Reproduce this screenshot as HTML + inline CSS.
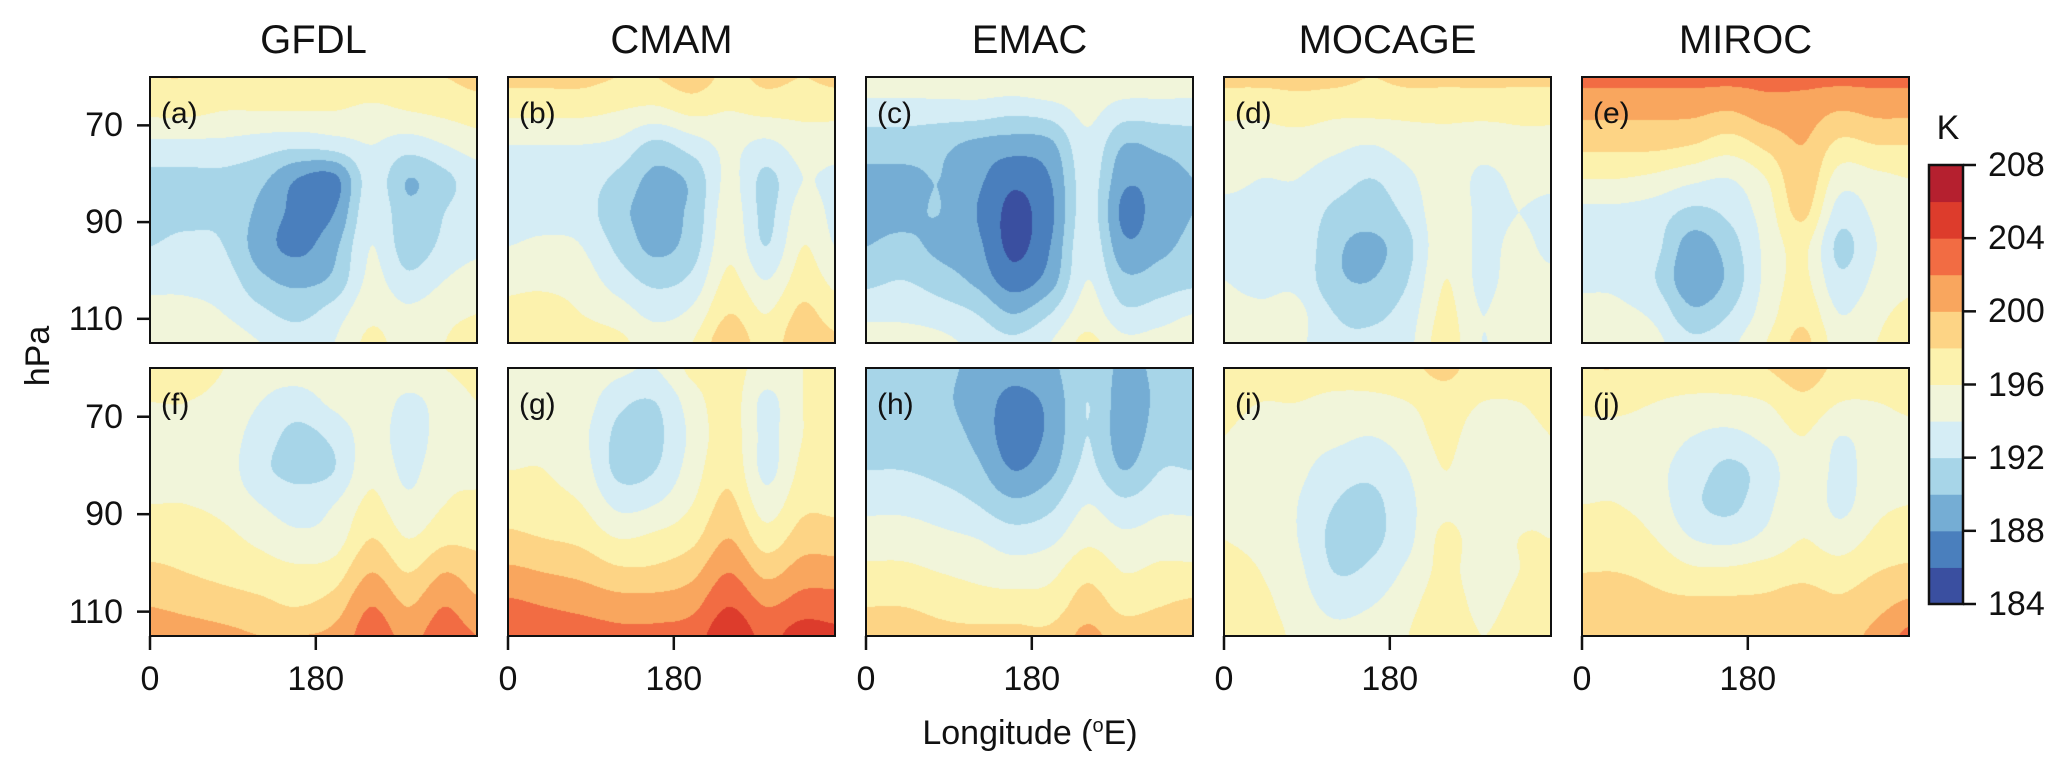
<!DOCTYPE html>
<html><head><meta charset="utf-8">
<style>
body{margin:0;background:#fff;}
#root{position:relative;width:2067px;height:775px;overflow:hidden;background:#fff;font-family:"Liberation Sans",sans-serif;color:#111;}
.t{position:absolute;white-space:nowrap;line-height:1;}
canvas{position:absolute;}
.frame{position:absolute;border:2.5px solid #111;box-sizing:border-box;}
</style></head>
<body>
<div id="root">
<svg id="ov" width="2067" height="775" style="position:absolute;left:0;top:0"></svg>
</div>
<script>
const models = ["GFDL","CMAM","EMAC","MOCAGE","MIROC"];
const letters = [["(a)","(b)","(c)","(d)","(e)"],["(f)","(g)","(h)","(i)","(j)"]];
const lons = [0,40,80,120,160,200,240,280,320,355];
const pres = [60,67,74,81,88,95,102,109,115];
const levels = [184,186,188,190,192,194,196,198,200,202,204,206,208];
const colors = ["#3a4fa0","#4a7fbd","#75add4","#a7d5e8","#d5edf5","#f1f5da","#fcf2ad","#fdd485","#f9a65e","#f26c43","#dd3c2c","#b5202f"];
const yTicks = [70,90,110];
const xTicks = [0,180];
const cbTicks = [184,188,192,196,200,204,208];

const gfdlTop = [
[198,198,197.5,198,198,198,197.5,198,198,198.5],
[196.5,196.5,196,196,196,196,195.5,196,196.5,197],
[193.5,193.5,193.5,193,192.5,193,194,193,194,195],
[191.5,191.5,191.5,190.5,188,187.5,193,190,191.5,193],
[191.5,191.5,191.5,189.5,187.5,188,193.5,190.5,192,193],
[192,192.5,192,189,187.5,189.5,194,191,192.5,193.5],
[193.5,193.5,193,190.5,189.5,190.5,194.5,192.5,194,195],
[194.5,194.5,194,192.5,191.5,193,195.5,194.5,195.5,196],
[195,195,195,194,193,194,196.5,195,196,196.5]];
const cmamTop = [
[198.5,198.5,198.5,198,198,199,197.5,198.5,198,198.5],
[196.5,196.5,196.5,196,195.5,196.5,196,196.5,196.5,196.5],
[194,194,194,193.5,191.5,193,194.5,193.5,195,195],
[193,193,193,191.5,189.5,190.5,194.5,191.5,194,193.5],
[193,193,193,190.5,189.5,190.5,195,191.5,195,193.5],
[194,194.5,194,191.5,189.5,191,195.5,192,196,194],
[195.5,195.5,195,193,191.5,192.5,196.5,194,197,195.5],
[196.5,197,196,195,193.5,194.5,198,196,198.5,197],
[197.5,198,197,196.5,195,196,199.5,197,199.5,198.5]];
const emacTop = [
[195.5,195.5,195.5,195.5,195.5,196,195.5,195.5,195.5,195.5],
[193,193,193,193,192.5,193,194.5,193,193,193],
[191,191,190.5,189.5,189,189.5,193.5,190,190.5,191],
[189.5,189.5,190,188.5,186.5,188,193,188.5,189,190],
[189.5,189.5,190,188,185.5,187.5,193,187.5,189,190],
[190,190.5,189.5,188.5,185.5,188,193.5,188.5,189.5,190.5],
[191.5,192,191,189.5,187,189,194,190.5,191,191.5],
[193.5,193.5,193,192,190,192,195,192.5,193,194],
[195,195,194.5,193.5,192.5,194,196.5,194.5,195,196]];
const mocageTop = [
[198.5,198.5,198.5,198.5,198,198.5,198.5,198.5,198.5,198.5],
[196.5,196.5,197,196.5,196.5,196.5,196.5,196.5,196.5,196.5],
[195,195,195,194.5,194,195,195.5,195,195.5,195.5],
[194.5,194,194,193,192,193.5,195.5,193.5,194.5,194.5],
[193.5,193.5,193.5,191.5,191,192.5,195.5,193.5,194,193.5],
[193.5,193.5,193.5,190.5,189.5,191.5,195.5,193.5,194.5,193.5],
[194,193.5,193.5,190.5,190,192,196,193.5,195,194.5],
[194.5,194.5,194.5,192,191.5,193,196.5,194,195.5,195],
[195,195.5,194.5,192.5,192.5,193.5,197,194,195.5,195.5]];
const mirocTop = [
[202.5,202.5,202.5,202.5,202.5,202.5,202.5,202.5,202.5,202.5],
[200.5,200.5,200.5,200.5,200,201,201,200,200.5,200.5],
[198.5,198.5,198.5,198,197,198.5,200,197.5,198,198],
[196,196,195.5,194.5,194,196,199.5,195,195.5,196],
[193.5,193.5,193,191.5,192.5,195,198.5,193,194.5,195.5],
[193,193,192.5,189,191,194.5,196.5,191.5,194,195],
[193.5,193.5,192,188.5,190.5,194.5,196.5,192.5,194.5,195.5],
[195,194.5,193.5,190.5,192,195,197.5,194,195.5,196.5],
[196,195.5,194.5,192.5,193.5,196,198.5,195,196,197]];
const gfdlBot = [
[196.5,196.5,196,195,195,195.5,196,195.5,196,196.5],
[196,196,195.5,194,193,194.5,195.5,193.5,195,196],
[195.5,195.5,195,193,191.5,192.5,195,193,195,195.5],
[195.5,195.5,195,192.5,191.5,192,195.5,193.5,195.5,195.5],
[196,196,195.5,194,193,194,196.5,194.5,196,196.5],
[197,197,196.5,195.5,194.5,195,198,196,197.5,197.5],
[198.5,198,197.5,197,196.5,197,200,198,200,199],
[200,199.5,199,198.5,198,199,202,200,202,200.5],
[201.5,201,200.5,200,200,200.5,203,201.5,203,202]];
const cmamBot = [
[195.5,195.5,195.5,194.5,194,196.5,197,195,196,196.5],
[195.5,195.5,195,192.5,192,195,197,193.5,196,196.5],
[195.5,195.5,194.5,191.5,191.5,194.5,197,193.5,196,196.5],
[196,196,195,191.5,192,195,197.5,193.5,196.5,196.5],
[197,196.5,196,193.5,194,196,198.5,195,197.5,197.5],
[198.5,198,197.5,196,196.5,197.5,200,197,199,199],
[200.5,200,199.5,198.5,198.5,199.5,202,199.5,201,201],
[202.5,202,201.5,201,201,201.5,204,202,203,203],
[204,203.5,203,202.5,202.5,203,205.5,203.5,205,204.5]];
const emacBot = [
[191,191,190.5,189.5,188.5,189.5,191.5,189.5,190.5,191],
[191,191,190.5,189,187.5,188.5,192,189,190.5,191],
[191,191,191,189.5,187,188.5,192,189,191,191],
[192,192,191.5,190.5,188,189.5,192.5,190,192,192],
[193.5,193.5,193,192,190.5,191.5,194,192.5,193.5,193.5],
[195,195,194.5,194,193,193.5,195.5,194.5,195,195],
[196.5,196.5,196,195.5,195,195.5,197.5,196,196.5,196.5],
[198,198,197.5,197,197,197,199,197.5,198,198.5],
[199.5,199,198.5,198.5,198.5,198.5,200.5,199,199.5,200]];
const mocageBot = [
[197.5,197,197,197,197,197.5,198.5,197,197,197],
[196.5,196,196,195.5,195.5,196,197,196,196,196.5],
[196,195.5,195,194.5,194,195,196.5,195,195.5,196],
[196,195.5,194.5,193,192.5,194,196,194.5,195.5,196],
[196,195.5,194,192,191.5,193.5,195.5,194.5,195.5,196],
[196,195.5,194,191.5,191.5,193.5,196.5,195,196,196],
[196.5,196,194.5,192,192.5,194.5,196.5,195,196,196.5],
[196.5,196.5,195,193.5,194,195.5,197,195.5,196.5,196.5],
[197,197,195.5,194.5,195,196,197.5,196,197,197]];
const mirocBot = [
[198,198,197.5,197.5,197.5,198,199,197.5,197.5,198],
[196.5,196.5,196,195.5,195.5,196,197.5,196,196,196.5],
[195.5,195.5,195,194,193.5,194.5,196,194,195,195.5],
[195.5,195.5,194.5,193,191.5,193,195.5,193.5,195,195.5],
[196,196,195,192.5,191.5,193.5,195.5,193.5,195.5,196],
[197,197,196,194,193.5,194.5,196,195,196.5,197],
[198,198,197.5,196.5,196.5,197,197.5,197,198,198.5],
[199,199,198.5,198.5,198.5,198.5,199,198.5,199.5,200.5],
[199.5,199.5,199,199,199,199,199.5,199.5,200.5,202.5]];
const fields = [[gfdlTop,cmamTop,emacTop,mocageTop,mirocTop],[gfdlBot,cmamBot,emacBot,mocageBot,mirocBot]];

const root = document.getElementById('root');
const ov = document.getElementById('ov');
const NS = "http://www.w3.org/2000/svg";
const panelX = [150,508,866,1224,1582], PW = 327;
const rowY = [77,368], rowH = [266,268];
const LON0 = 0, LON1 = 355, P0 = 60, P1 = 115;

function idxFrac(v, arr){
  if (v <= arr[0]) return 0;
  for (let i=0;i<arr.length-1;i++){ if (v<=arr[i+1]) return i + (v-arr[i])/(arr[i+1]-arr[i]); }
  return arr.length-1;
}
function cr(p0,p1,p2,p3,t){
  return 0.5*((2*p1)+(-p0+p2)*t+(2*p0-5*p1+4*p2-p3)*t*t+(-p0+3*p1-3*p2+p3)*t*t*t);
}
function sample(F, fi, fj){
  const ny=F.length, nx=F[0].length;
  const i=Math.min(Math.floor(fi),ny-2), j=Math.min(Math.floor(fj),nx-2);
  const ti=fi-i, tj=fj-j;
  const g=(a,b)=>F[Math.max(0,Math.min(ny-1,a))][Math.max(0,Math.min(nx-1,b))];
  const rows=[];
  for (let a=-1;a<=2;a++) rows.push(cr(g(i+a,j-1),g(i+a,j),g(i+a,j+1),g(i+a,j+2),tj));
  return cr(rows[0],rows[1],rows[2],rows[3],ti);
}
function hex(c){return [parseInt(c.slice(1,3),16),parseInt(c.slice(3,5),16),parseInt(c.slice(5,7),16)];}
const rgb = colors.map(hex);
function band(v){
  let k=Math.floor((v-levels[0])/(levels[1]-levels[0]));
  return Math.max(0,Math.min(colors.length-1,k));
}
function addText(txt,x,y,size,anchor,name,extra){
  const d=document.createElement('div');
  d.className='t'; d.textContent=txt;
  
  
  d.style.fontSize=size+'px';
  let tx = anchor==='middle'?'-50%':(anchor==='end'?'-100%':'0');
  d.style.left=x+'px'; d.style.top=y+'px';
  d.style.transform='translate('+tx+',-50%)'+(extra||'');
  root.appendChild(d); return d;
}
function line(x1,y1,x2,y2,name){
  const l=document.createElementNS(NS,'line');
  l.setAttribute('x1',x1);l.setAttribute('y1',y1);l.setAttribute('x2',x2);l.setAttribute('y2',y2);
  l.setAttribute('stroke','#111');l.setAttribute('stroke-width','2.5');
  
  
  ov.appendChild(l);
}

for (let r=0;r<2;r++){
  const y0=rowY[r], H=rowH[r];
  const py = p => y0 + (p-P0)/(P1-P0)*H;
  for (let c=0;c<5;c++){
    const x0=panelX[c];
    const px = lon => x0 + (lon-LON0)/(LON1-LON0)*PW;
    const F=fields[r][c];
    const cv=document.createElement('canvas');
    cv.width=PW; cv.height=H;
    cv.style.left=x0+'px'; cv.style.top=y0+'px';
    
    
    const ctx=cv.getContext('2d');
    const im=ctx.createImageData(PW,H);
    for (let yy=0;yy<H;yy++){
      const p=P0+(yy+0.5)/H*(P1-P0);
      const fi=idxFrac(p,pres);
      for (let xx=0;xx<PW;xx++){
        const lon=LON0+(xx+0.5)/PW*(LON1-LON0);
        const fj=idxFrac(lon,lons);
        const col=rgb[band(sample(F,fi,fj))];
        const o=(yy*PW+xx)*4;
        im.data[o]=col[0];im.data[o+1]=col[1];im.data[o+2]=col[2];im.data[o+3]=255;
      }
    }
    ctx.putImageData(im,0,0);
    root.appendChild(cv);
    const fr=document.createElement('div');
    fr.className='frame';
    
    
    fr.style.left=(x0-1)+'px'; fr.style.top=(y0-1)+'px'; fr.style.width=(PW+2)+'px'; fr.style.height=(H+2)+'px';
    root.appendChild(fr);
    addText(letters[r][c], x0+11, y0+37, 30, 'start', 'panel-letter');
    if (r===0) addText(models[c], x0+PW/2, 40, 40, 'middle', 'model-title');
    if (c===0){
      yTicks.forEach(t=>{
        line(x0-13, py(t), x0, py(t), 'y-tick');
        addText(String(t), x0-27, py(t), 34, 'end', 'y-tick-label');
      });
    }
    if (r===1){
      xTicks.forEach(t=>{
        line(px(t), y0+H, px(t), y0+H+14, 'x-tick');
        addText(String(t), px(t), 679, 34, 'middle', 'x-tick-label');
      });
    }
  }
}
addText('hPa', 38, 356, 34, 'middle', 'y-axis-title', ' rotate(-90deg)');
const xl = addText('Longitude (', 1030, 733, 34, 'middle', 'x-axis-title');
xl.innerHTML='Longitude (<sup style="font-size:20px;vertical-align:12px">o</sup>E)';

// colorbar
const cbX=1929, cbW=34, cbY0=165, cbY1=604;
const cbScale = v => cbY1 - (v-levels[0])/(levels[levels.length-1]-levels[0])*(cbY1-cbY0);
for (let k=0;k<colors.length;k++){
  const rc=document.createElementNS(NS,'rect');
  const ya=cbScale(levels[k+1]), yb=cbScale(levels[k]);
  rc.setAttribute('x',cbX);rc.setAttribute('y',ya);rc.setAttribute('width',cbW);rc.setAttribute('height',yb-ya+0.5);
  rc.setAttribute('fill',colors[k]);
  
  
  ov.appendChild(rc);
}
const cbf=document.createElementNS(NS,'rect');
cbf.setAttribute('x',cbX);cbf.setAttribute('y',cbY0);cbf.setAttribute('width',cbW);cbf.setAttribute('height',cbY1-cbY0);
cbf.setAttribute('fill','none');cbf.setAttribute('stroke','#111');cbf.setAttribute('stroke-width','2.5');


ov.appendChild(cbf);
cbTicks.forEach(t=>{
  line(cbX+cbW, cbScale(t), cbX+cbW+13, cbScale(t), 'colorbar-tick');
  addText(String(t), 1988, cbScale(t), 34, 'start', 'colorbar-tick-label');
});
addText('K', 1948, 128, 34, 'middle', 'colorbar-unit-label');
root.appendChild(ov);
</script>
</body></html>
